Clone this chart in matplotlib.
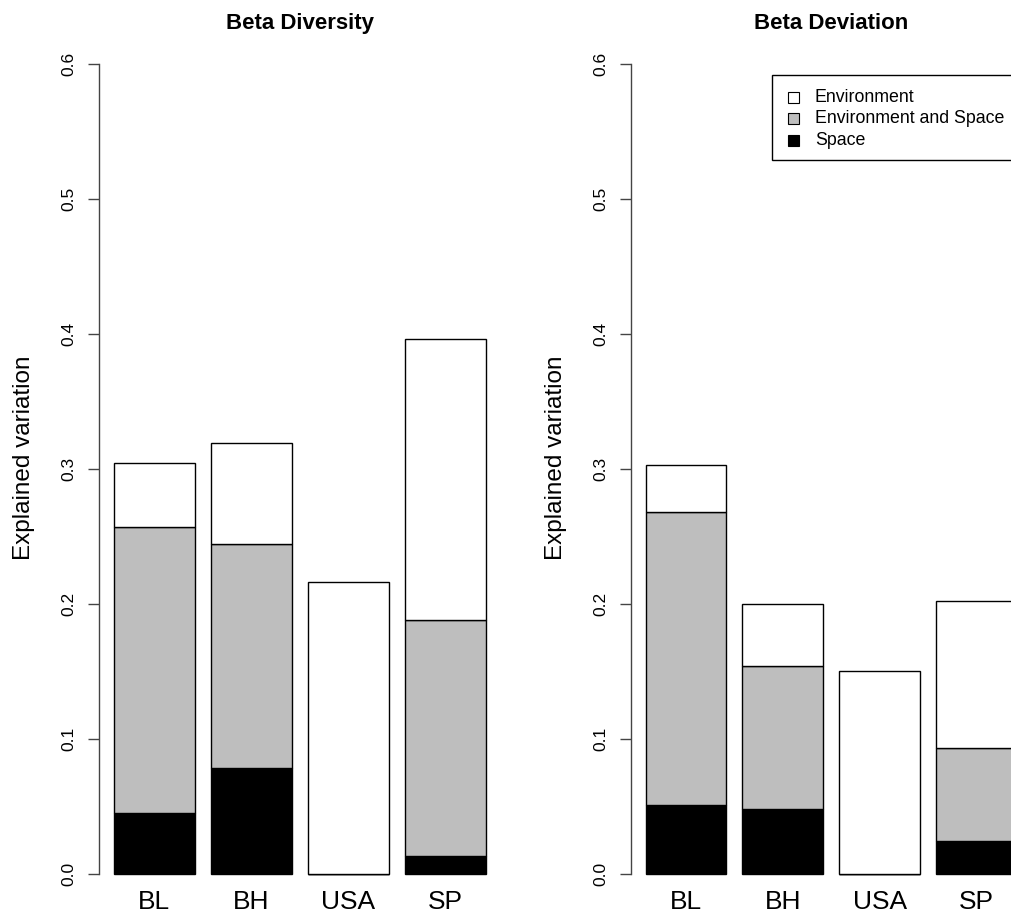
import matplotlib.pyplot as plt
from matplotlib.patches import Rectangle
import numpy as np

plt.rcParams['font.family'] = ['Liberation Sans', 'DejaVu Sans']

# Variation partitioning results per region (stacked: space, shared, environment)
sites = ['BL', 'BH', 'USA', 'SP']

div_space = [0.045, 0.078, 0.0, 0.013]
div_shared = [0.212, 0.166, 0.0, 0.175]
div_env = [0.047, 0.075, 0.216, 0.208]

dev_space = [0.051, 0.048, 0.0, 0.024]
dev_shared = [0.217, 0.106, 0.0, 0.069]
dev_env = [0.035, 0.046, 0.150, 0.109]

legend_labels = ['Environment', 'Environment and Space', 'Space']
legend_colors = ['white', '#bebebe', 'black']
y_ticks = [0.0, 0.1, 0.2, 0.3, 0.4, 0.5, 0.6]

W, H = 1011, 914
fig = plt.figure(figsize=(W / 100, H / 100), dpi=100)


def px_axes(left, right, top, bottom):
    return fig.add_axes([left / W, 1 - bottom / H, (right - left) / W, (bottom - top) / H])


x = np.arange(len(sites)) * 1.2 + 0.7


def draw_panel(ax, space, shared, env, title):
    space = np.array(space)
    shared = np.array(shared)
    env = np.array(env)
    ax.set_facecolor('none')
    ax.bar(x, space, width=1, color='black', edgecolor='black', lw=1)
    ax.bar(x, shared, width=1, bottom=space, color='#bebebe', edgecolor='black', lw=1)
    ax.bar(x, env, width=1, bottom=space + shared, color='white', edgecolor='black', lw=1)
    ax.set_xlim(0.016, 4.984)
    ax.set_ylim(-0.024, 0.624)
    for s in ['top', 'right', 'bottom']:
        ax.spines[s].set_visible(False)
    ax.spines['left'].set_bounds(0, 0.6)
    ax.spines['left'].set_color('#444444')
    ax.spines['left'].set_linewidth(1)
    ax.set_yticks(y_ticks)
    ax.set_yticklabels([f'{v:.1f}' for v in y_ticks], rotation=90, va='center')
    ax.tick_params(axis='y', length=8, width=1, pad=8, labelsize=12.5, color='#444444')
    ax.set_xticks([])
    for xi, name in zip(x, sites):
        ax.text(xi, -0.021, name, ha='center', va='center', fontsize=19)
    ax.text(-0.187, 0.5128, 'Explained variation', rotation=90, ha='center', va='center',
            fontsize=17.5, transform=ax.transAxes)
    ax.text(0.5, 1.0023, title, ha='center', va='baseline', fontsize=16,
            fontweight='bold', transform=ax.transAxes)


ax1 = px_axes(99, 500.5, 31.3, 906.1)
draw_panel(ax1, div_space, div_shared, div_env, 'Beta Diversity')

ax2 = px_axes(630.7, 1032, 31.3, 906.1)
draw_panel(ax2, dev_space, dev_shared, dev_env, 'Beta Deviation')

# legend box drawn in figure pixels
fig.add_artist(Rectangle((771.7 / W, 1 - 160 / H), 260 / W, 85 / H, facecolor='white',
                         edgecolor='black', lw=1, transform=fig.transFigure))
for i, (lab, col) in enumerate(zip(legend_labels, legend_colors)):
    yc = 97.7 + i * 21.2
    fig.add_artist(Rectangle((787.5 / W, 1 - (yc + 5.5) / H), 11 / W, 11 / H, facecolor=col,
                             edgecolor='black', lw=0.8, transform=fig.transFigure))
    fig.text(815 / W, 1 - yc / H, lab, ha='left', va='center', fontsize=12.8)

fig.savefig('out.png', dpi=100)
